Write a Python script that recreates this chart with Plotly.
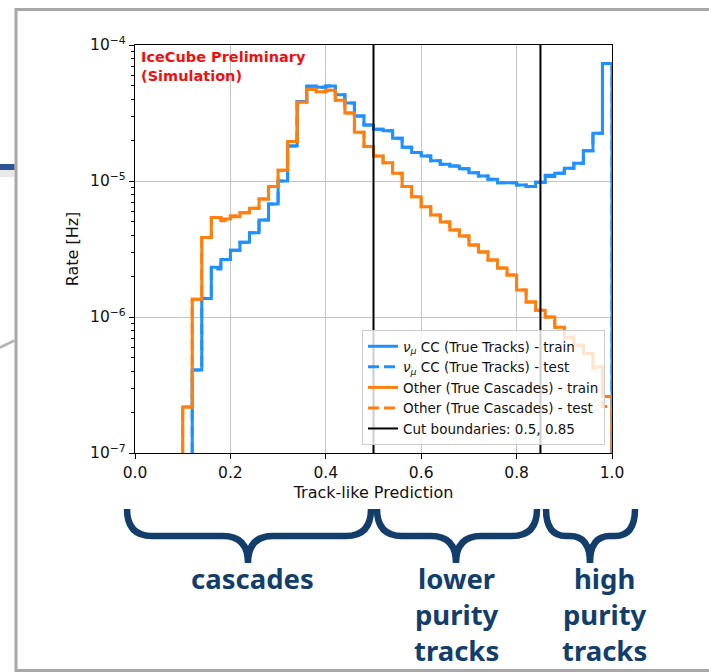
import numpy as np
import plotly.graph_objects as go

W, H = 709, 672

# 50 equal-width bins of the track-like score
n_bins = 50
bin_edges = np.linspace(0.0, 1.0, n_bins + 1)

# Rates per bin [Hz]; 0 = empty bin
numu_cc_train = [0, 0, 0, 0, 0, 0, 4.07e-7, 1.37e-6, 2.32e-6, 2.65e-6,
                 3.1e-6, 3.54e-6, 4.17e-6, 5.16e-6, 6.78e-6, 1.0e-5, 1.81e-5, 3.85e-5, 5.0e-5, 4.89e-5,
                 5.0e-5, 4.3e-5, 3.75e-5, 3.0e-5, 2.58e-5, 2.4e-5, 2.34e-5, 2.06e-5, 1.77e-5, 1.62e-5,
                 1.53e-5, 1.41e-5, 1.33e-5, 1.29e-5, 1.23e-5, 1.15e-5, 1.09e-5, 1.03e-5, 9.7e-6, 9.7e-6,
                 9.35e-6, 9.1e-6, 9.8e-6, 1.1e-5, 1.14e-5, 1.24e-5, 1.35e-5, 1.67e-5, 2.24e-5, 7.3e-5]
numu_cc_test = [0, 0, 0, 0, 0, 0, 4.07e-7, 1.37e-6, 2.25e-6, 2.65e-6,
                3.1e-6, 3.54e-6, 4.17e-6, 5.16e-6, 6.78e-6, 1.0e-5, 1.81e-5, 3.85e-5, 4.95e-5, 4.89e-5,
                5.0e-5, 4.3e-5, 3.75e-5, 3.0e-5, 2.58e-5, 2.4e-5, 2.34e-5, 2.06e-5, 1.77e-5, 1.62e-5,
                1.53e-5, 1.41e-5, 1.33e-5, 1.29e-5, 1.23e-5, 1.15e-5, 1.09e-5, 1.03e-5, 9.7e-6, 9.7e-6,
                9.35e-6, 9.1e-6, 9.8e-6, 1.08e-5, 1.14e-5, 1.24e-5, 1.35e-5, 1.67e-5, 2.24e-5, 7.3e-5]
other_train = [0, 0, 0, 0, 0, 2.18e-7, 1.35e-6, 3.85e-6, 5.4e-6, 5.26e-6,
               5.47e-6, 5.85e-6, 6.3e-6, 7.38e-6, 9.1e-6, 1.2e-5, 1.95e-5, 3.8e-5, 4.72e-5, 4.54e-5,
               4.65e-5, 3.92e-5, 3.16e-5, 2.28e-5, 1.79e-5, 1.53e-5, 1.36e-5, 1.14e-5, 9.1e-6, 7.67e-6,
               6.48e-6, 5.62e-6, 5.0e-6, 4.37e-6, 3.94e-6, 3.38e-6, 3.0e-6, 2.62e-6, 2.29e-6, 2.04e-6,
               1.58e-6, 1.29e-6, 1.12e-6, 1.0e-6, 8.4e-7, 7.1e-7, 6.2e-7, 5.4e-7, 4.3e-7, 2.6e-7]
other_test = [0, 0, 0, 0, 0, 2.18e-7, 1.35e-6, 3.85e-6, 5.4e-6, 5.1e-6,
              5.55e-6, 5.85e-6, 6.3e-6, 7.38e-6, 9.1e-6, 1.2e-5, 1.95e-5, 3.8e-5, 4.72e-5, 4.54e-5,
              4.65e-5, 3.92e-5, 3.16e-5, 2.28e-5, 1.79e-5, 1.53e-5, 1.36e-5, 1.14e-5, 9.1e-6, 7.67e-6,
              6.48e-6, 5.62e-6, 5.0e-6, 4.37e-6, 3.94e-6, 3.38e-6, 3.0e-6, 2.62e-6, 2.29e-6, 2.04e-6,
              1.58e-6, 1.29e-6, 1.12e-6, 1.0e-6, 8.4e-7, 7.1e-7, 6.2e-7, 5.4e-7, 4.2e-7, 2.2e-7]

cut_boundaries = [0.5, 0.85]

y_tick_exponents = [-7, -6, -5, -4]
x_tick_values = [0.0, 0.2, 0.4, 0.6, 0.8, 1.0]

region_labels = [["cascades"], ["lower", "purity", "tracks"], ["high", "purity", "tracks"]]

BLUE = "#1e90ff"
ORANGE = "#ff7f0e"
NAVY = "#133e6b"
FLOOR = 1e-9  # below the visible range, used for the outline's base


def step_outline(values):
    """Closed step outline of a histogram (like histtype='step')."""
    vals = np.asarray(values, dtype=float)
    nz = np.nonzero(vals)[0]
    first = nz[0]
    xs = [bin_edges[first]]
    ys = [FLOOR]
    for i in range(first, n_bins):
        xs.append(bin_edges[i])
        ys.append(vals[i] if vals[i] > 0 else FLOOR)
    xs += [bin_edges[-1], bin_edges[-1]]
    ys += [vals[-1], FLOOR]
    return xs, ys


fig = go.Figure()

nu_name = "<i>ν<sub>μ</sub></i> CC (True Tracks)"
series = [
    (numu_cc_train, BLUE, "solid", nu_name + " - train"),
    (numu_cc_test, BLUE, "11px,5px", nu_name + " - test"),
    (other_train, ORANGE, "solid", "Other (True Cascades) - train"),
    (other_test, ORANGE, "11px,5px", "Other (True Cascades) - test"),
]
for vals, color, dash, name in series:
    xs, ys = step_outline(vals)
    fig.add_trace(go.Scatter(x=xs, y=ys, mode="lines", name=name,
                             line=dict(color=color, width=3, dash=dash, shape="hv")))

cut_x, cut_y = [], []
for c in cut_boundaries:
    cut_x += [c, c, None]
    cut_y += [FLOOR, 1e-2, None]
fig.add_trace(go.Scatter(x=cut_x, y=cut_y, mode="lines",
                         name="Cut boundaries: " + ", ".join(f"{c:g}" for c in cut_boundaries),
                         line=dict(color="black", width=2)))


def px(x):
    return x / W


def py(y):
    return 1 - y / H


# plot area in pixels
X0, X1, Y0, Y1 = 135, 612, 45, 453

axis_font = dict(family="DejaVu Sans", size=15.5, color="#111")
fig.update_xaxes(domain=[px(X0), px(X1)], range=[0, 1],
                 tickmode="array", tickvals=x_tick_values,
                 ticktext=[f"{v:.1f}" for v in x_tick_values],
                 showline=True, mirror=True, linecolor="black", linewidth=1.3,
                 ticks="outside", ticklen=5, tickwidth=1.3, tickcolor="black",
                 showgrid=True, gridcolor="#c4c4c4", gridwidth=1.3, zeroline=False,
                 tickfont=axis_font, automargin=False,
                 title=dict(text="Track-like Prediction", standoff=6,
                            font=dict(family="DejaVu Sans", size=16, color="#111")))
minor_vals = [k * 10.0 ** e for e in (-7, -6, -5) for k in range(2, 10)]
fig.update_yaxes(domain=[py(Y1), py(Y0)], type="log", range=[-7, -4],
                 tickmode="array", tickvals=[10.0 ** e for e in y_tick_exponents],
                 ticktext=[f"10<sup>−{-e}</sup>" for e in y_tick_exponents],
                 showline=True, mirror=True, linecolor="black", linewidth=1.3,
                 ticks="outside", ticklen=5, tickwidth=1.3, tickcolor="black",
                 minor=dict(tickmode="array", tickvals=minor_vals, ticks="outside",
                            ticklen=3, tickwidth=1, tickcolor="black", showgrid=False),
                 showgrid=True, gridcolor="#c4c4c4", gridwidth=1.3, zeroline=False,
                 tickfont=axis_font, automargin=False,
                 title=dict(text="Rate [Hz]", standoff=7,
                            font=dict(family="DejaVu Sans", size=16, color="#111")))

shapes = []
# slide frame
shapes.append(dict(type="path", xref="paper", yref="paper",
                   path=f"M {px(730)},{py(9.5)} L {px(16)},{py(9.5)} L {px(16)},{py(670.5)} L {px(730)},{py(670.5)}",
                   line=dict(color="#a8a8a8", width=3)))
shapes.append(dict(type="rect", xref="paper", yref="paper", x0=px(0), x1=px(14.5), y0=py(164), y1=py(170),
                   fillcolor="#2f5597", line=dict(width=0)))
shapes.append(dict(type="rect", xref="paper", yref="paper", x0=px(0), x1=px(14.5), y0=py(170), y1=py(177),
                   fillcolor="rgba(190,190,190,0.35)", line=dict(width=0)))
shapes.append(dict(type="line", xref="paper", yref="paper", x0=px(0), y0=py(347.5), x1=px(14.5), y1=py(340.5),
                   line=dict(color="#b4b4b4", width=2.5)))


def brace(x0, x1, xc, ytop, ybar, ytip, r):
    pts = [
        f"M {px(x0)},{py(ytop)}",
        f"Q {px(x0)},{py(ybar)} {px(x0 + r)},{py(ybar)}",
        f"L {px(xc - r)},{py(ybar)}",
        f"Q {px(xc)},{py(ybar)} {px(xc)},{py(ytip)}",
        f"Q {px(xc)},{py(ybar)} {px(xc + r)},{py(ybar)}",
        f"L {px(x1 - r)},{py(ybar)}",
        f"Q {px(x1)},{py(ybar)} {px(x1)},{py(ytop)}",
    ]
    return " ".join(pts)


braces = [(127, 371, 248, 25), (377, 537, 456, 25), (546, 635, 590, 20)]
for x0, x1, xc, r in braces:
    shapes.append(dict(type="path", xref="paper", yref="paper",
                       path=brace(x0, x1, xc, 509, 536, 563, r),
                       line=dict(color=NAVY, width=6.5)))

annotations = []
annotations.append(dict(xref="paper", yref="paper", x=px(139), y=py(47), xanchor="left", yanchor="top",
                        text="<b>IceCube Preliminary<br>(Simulation)</b>", showarrow=False,
                        align="left", font=dict(family="DejaVu Sans", size=14.5, color="#f01010")))

label_centers = [252, 456, 604]
for lines, cx in zip(region_labels, label_centers):
    annotations.append(dict(xref="paper", yref="paper", x=px(cx), y=py(558), xanchor="center",
                            yanchor="top", text="<b>" + "<br>".join(lines) + "</b>",
                            showarrow=False, align="center",
                            font=dict(family="Noto Sans", size=27.5, color=NAVY)))

fig.update_layout(
    width=W, height=H, margin=dict(l=0, r=0, t=0, b=0),
    paper_bgcolor="white", plot_bgcolor="white",
    showlegend=True,
    legend=dict(x=px(605), y=py(445), xanchor="right", yanchor="bottom",
                bgcolor="rgba(255,255,255,0.8)", bordercolor="#cccccc", borderwidth=1,
                font=dict(family="DejaVu Sans", size=13.5, color="#111"),
                itemwidth=30, tracegroupgap=0),
    shapes=shapes, annotations=annotations,
)

fig.write_html("out.html")
